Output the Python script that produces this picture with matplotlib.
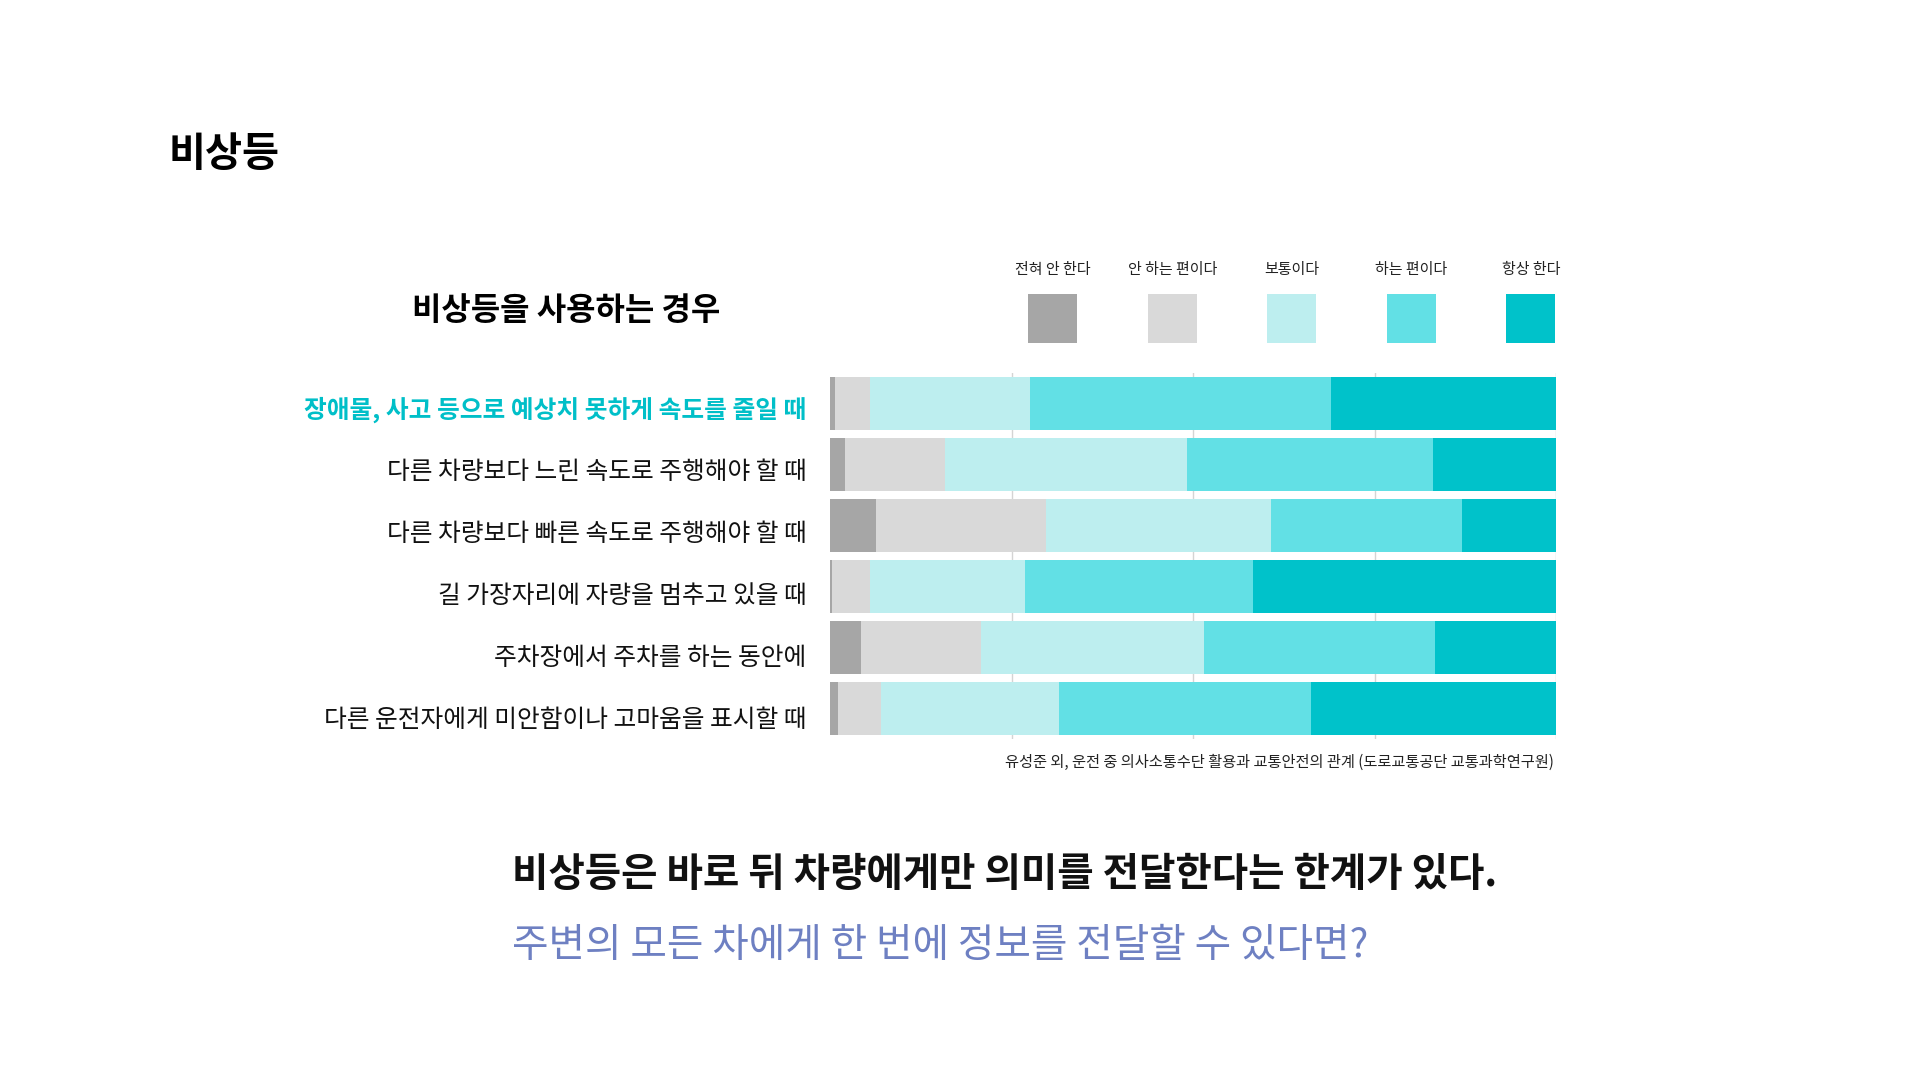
import numpy as np
import matplotlib
matplotlib.use("Agg")
import matplotlib.pyplot as plt
import matplotlib.transforms as mtransforms

plt.rcParams['font.family'] = ['Noto Sans CJK KR', 'DejaVu Sans']

# data (percent per answer)
cases = ["장애물, 사고 등으로 예상치 못하게 속도를 줄일 때",
         "다른 차량보다 느린 속도로 주행해야 할 때",
         "다른 차량보다 빠른 속도로 주행해야 할 때",
         "길 가장자리에 자량을 멈추고 있을 때",
         "주차장에서 주차를 하는 동안에",
         "다른 운전자에게 미안함이나 고마움을 표시할 때"]
answers = ["전혀 안 한다", "안 하는 편이다", "보통이다", "하는 편이다", "항상 한다"]
never = [0.7, 2.0, 6.4, 0.3, 4.3, 1.1]
rarely = [4.8, 13.9, 23.3, 5.2, 16.5, 5.9]
neutral = [22.1, 33.3, 31.0, 21.4, 30.7, 24.6]
often = [41.4, 33.9, 26.4, 31.4, 31.9, 34.6]
always = [31.0, 16.9, 12.9, 41.7, 16.6, 33.8]
colors = ["#A6A6A6", "#D9D9D9", "#BDEEEF", "#62E0E5", "#00C2CA"]

W, H = 1920, 1080
fig = plt.figure(figsize=(19.2, 10.8), dpi=100)
fig.patch.set_facecolor("white")

def fx(x): return x / W
def fy(y): return 1 - y / H

# bar chart
ax = fig.add_axes([fx(830), fy(739), 726 / W, 366 / H])
y = np.arange(len(cases))
left = np.zeros(len(cases))
for vals, c in zip([never, rarely, neutral, often, always], colors):
    ax.barh(y, vals, left=left, height=0.87, color=c, edgecolor="none", zorder=2)
    left += np.array(vals)
ax.set_xlim(0, 100)
ax.set_ylim(len(cases) - 0.5, -0.5)
ax.set_xticks([25, 50, 75, 100])
ax.grid(axis="x", color="#d4d4d4", lw=1, zorder=0)
ax.tick_params(length=0, labelbottom=False)
ax.set_yticks(y)
ax.set_yticklabels(cases, fontsize=17.8, color="#111111")
ax.tick_params(axis="y", pad=17)
for i, lab in enumerate(ax.get_yticklabels()):
    shift = mtransforms.ScaledTranslation(0, -(4 + 0.9 * i) / 100, fig.dpi_scale_trans)
    lab.set_transform(lab.get_transform() + shift)
lab0 = ax.get_yticklabels()[0]
lab0.set_color("#00BFC8"); lab0.set_fontweight("bold")
for s in ax.spines.values():
    s.set_visible(False)

# legend as a small row of squares
lg = fig.add_axes([fx(993), fy(343), 597.5 / W, 49 / H])
lg.bar(np.arange(len(answers)), 1, width=0.41, color=colors, edgecolor="none")
for i, a in enumerate(answers):
    lg.annotate(a, (i, 1), xytext=(0, 17.5), textcoords="offset points",
                ha="center", va="center", fontsize=10.8, color="#222222")
lg.set_xlim(-0.5, len(answers) - 0.5)
lg.set_ylim(0, 1)
lg.axis("off")

# texts
fig.text(fx(169), fy(155), "비상등", fontsize=29, fontweight="bold", va="center", ha="left")
fig.text(fx(566), fy(311), "비상등을 사용하는 경우", fontsize=23, fontweight="bold",
         va="center", ha="center")
fig.text(fx(1554), fy(762), "유성준 외, 운전 중 의사소통수단 활용과 교통안전의 관계 (도로교통공단 교통과학연구원)",
         fontsize=11, ha="right", va="center", color="#222222")
fig.text(fx(512), fy(875), "비상등은 바로 뒤 차량에게만 의미를 전달한다는 한계가 있다.",
         fontsize=28.5, fontweight="bold", ha="left", va="center", color="#111111")
fig.text(fx(512), fy(946), "주변의 모든 차에게 한 번에 정보를 전달할 수 있다면?",
         fontsize=28.6, ha="left", va="center", color="#6E80C2")

fig.savefig("out.png", dpi=100, facecolor="white")
